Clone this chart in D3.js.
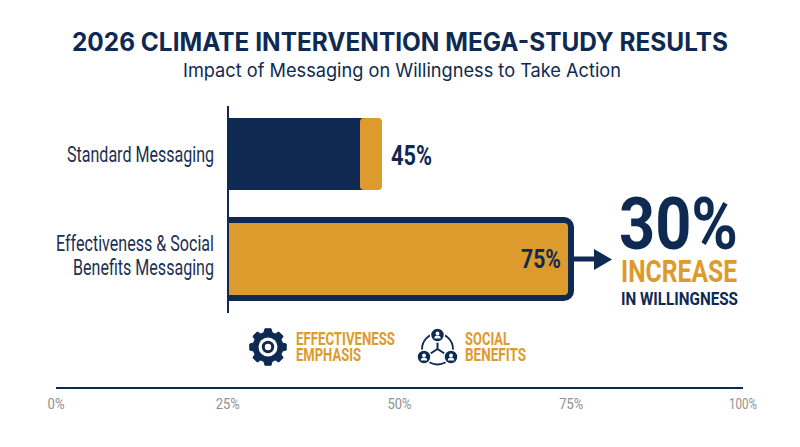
<!DOCTYPE html>
<html><head><meta charset="utf-8">
<script src="https://cdn.jsdelivr.net/npm/d3@7/dist/d3.min.js"></script>
<style>html,body{margin:0;padding:0;background:#fff}svg{display:block}text{font-family:Roboto,sans-serif}</style>
</head><body><div id="c"></div>
<script>
const title = "2026 CLIMATE INTERVENTION MEGA-STUDY RESULTS";
const subtitle = "Impact of Messaging on Willingness to Take Action";
const categories = ["Standard Messaging", "Effectiveness & Social Benefits Messaging"];
const values = [45, 75];
const standardBase = 39;
const axisTicks = [0, 25, 50, 75, 100];
const NAVY = "#0f2a52", GOLD = "#dd9a2d", GREY = "#909090", INK = "#1c2f52";

const svg = d3.select("#c").append("svg").attr("width", 800).attr("height", 447);

const axisX = d3.scaleLinear().domain([0, 100]).range([56, 743]);
// The picture's bars are not drawn to the printed axis: they have their own baseline
const barX = d3.scaleLinear().domain([0, 39, 45, 75]).range([228, 360, 382, 574]);

function fit(s, x, y, w, size, weight, fill, anchor, family) {
  const t = svg.append("text").attr("x", x).attr("y", y).text(s)
    .attr("font-size", size).attr("font-weight", weight).attr("fill", fill)
    .attr("text-anchor", anchor || "start")
    .attr("textLength", w).attr("lengthAdjust", "spacingAndGlyphs");
  if (family) t.style("font-family", family);
  return t;
}

fit(title, 400, 51, 656, 25, 700, NAVY, "middle", "Inter");
fit(subtitle, 402, 77, 438, 18.5, 400, NAVY, "middle", "Inter");

// Standard bar
const y0 = 118, h0 = 72;
svg.append("rect").attr("x", barX(0)).attr("y", y0)
  .attr("width", barX(standardBase) + 4 - barX(0)).attr("height", h0).attr("fill", NAVY);
svg.append("rect").attr("x", barX(standardBase)).attr("y", y0)
  .attr("width", barX(values[0]) - barX(standardBase)).attr("height", h0)
  .attr("rx", 4).attr("fill", GOLD);

// Emphasised bar
const y1 = 217, h1 = 84, sw = 6, r = 7;
const x1 = barX(values[1]);
svg.append("path").attr("fill", GOLD).attr("stroke", NAVY).attr("stroke-width", sw)
  .attr("d", `M${barX(0)},${y1 + sw / 2}H${x1 - sw / 2 - r}a${r},${r} 0 0 1 ${r},${r}V${y1 + h1 - sw / 2 - r}a${r},${r} 0 0 1 ${-r},${r}H${barX(0)}`);

// Vertical category axis
svg.append("line").attr("x1", 228).attr("x2", 228).attr("y1", 106).attr("y2", 313)
  .attr("stroke", NAVY).attr("stroke-width", 2);

// Category labels
fit("Standard Messaging", 214, 162, 147, 22, 400, INK, "end");
fit("Effectiveness & Social", 214, 251, 158, 22, 400, INK, "end");
fit("Benefits Messaging", 214, 275, 141, 22, 400, INK, "end");

// Value labels
fit(values[0] + "%", 391, 165, 41, 27, 700, NAVY);
fit(values[1] + "%", 521, 268, 40, 25, 700, NAVY);

// Arrow
svg.append("rect").attr("x", x1).attr("y", 256.5).attr("width", 22).attr("height", 5).attr("fill", NAVY);
svg.append("path").attr("fill", NAVY).attr("d", "M594,249L612,259.5L594,270Z");

// Callout
fit("30%", 619, 249, 119, 73, 700, NAVY);
fit("INCREASE", 621, 282, 116, 32, 700, GOLD);
fit("IN WILLINGNESS", 621, 304.5, 117, 18.5, 700, NAVY);

// Gear icon
const gear = svg.append("g").attr("transform", "translate(268,347)");
const teeth = 8, pts = [];
d3.range(teeth).forEach(i => {
  const a = i * 2 * Math.PI / teeth, d = Math.PI / teeth;
  [[-0.7, 15], [-0.42, 18.5], [0.42, 18.5], [0.7, 15]].forEach(([k, rr]) => pts.push([a + k * d, rr]));
});
gear.append("path").attr("fill", NAVY).attr("stroke", NAVY).attr("stroke-width", 1).attr("stroke-linejoin", "round")
  .attr("d", d3.lineRadial().curve(d3.curveLinearClosed)(pts));
gear.append("circle").attr("r", 9.5).attr("fill", "#fff");
gear.append("circle").attr("r", 6.2).attr("fill", NAVY);
gear.append("circle").attr("r", 3.2).attr("fill", "#fff");

fit("EFFECTIVENESS", 296, 345, 99, 18, 700, GOLD);
fit("EMPHASIS", 296, 361, 65, 18, 700, GOLD);

// People-network icon
const net = svg.append("g").attr("transform", "translate(437.5,349)");
const nodes = [[0, -14], [-13.5, 8], [13.5, 8]];
net.append("circle").attr("r", 15.5).attr("fill", "none").attr("stroke", NAVY).attr("stroke-width", 1.8);
net.append("path").attr("fill", "none").attr("stroke", NAVY).attr("stroke-width", 2)
  .attr("d", "M0,-7V0M0,0L-7,4.5M0,0L7,4.5");
nodes.forEach(([x, y]) => {
  const g = net.append("g").attr("transform", `translate(${x},${y})`);
  g.append("circle").attr("r", 7).attr("fill", NAVY).attr("stroke", "#fff").attr("stroke-width", 1.5);
  g.append("circle").attr("cy", -1.6).attr("r", 1.9).attr("fill", "#fff");
  g.append("path").attr("fill", "#fff").attr("d", "M-3.2,3.6a3.2,3 0 0 1 6.4,0Z");
});
fit("SOCIAL", 465, 345, 45, 18, 700, GOLD);
fit("BENEFITS", 465, 361, 61, 18, 700, GOLD);

// Bottom axis
svg.append("line").attr("x1", axisX(0)).attr("x2", axisX(100)).attr("y1", 388).attr("y2", 388)
  .attr("stroke", NAVY).attr("stroke-width", 2);
const widths = [17, 24, 24, 24, 28];
axisTicks.forEach((t, i) => fit(t + "%", axisX(t), 409, widths[i], 15, 400, GREY, "middle"));
</script></body></html>
